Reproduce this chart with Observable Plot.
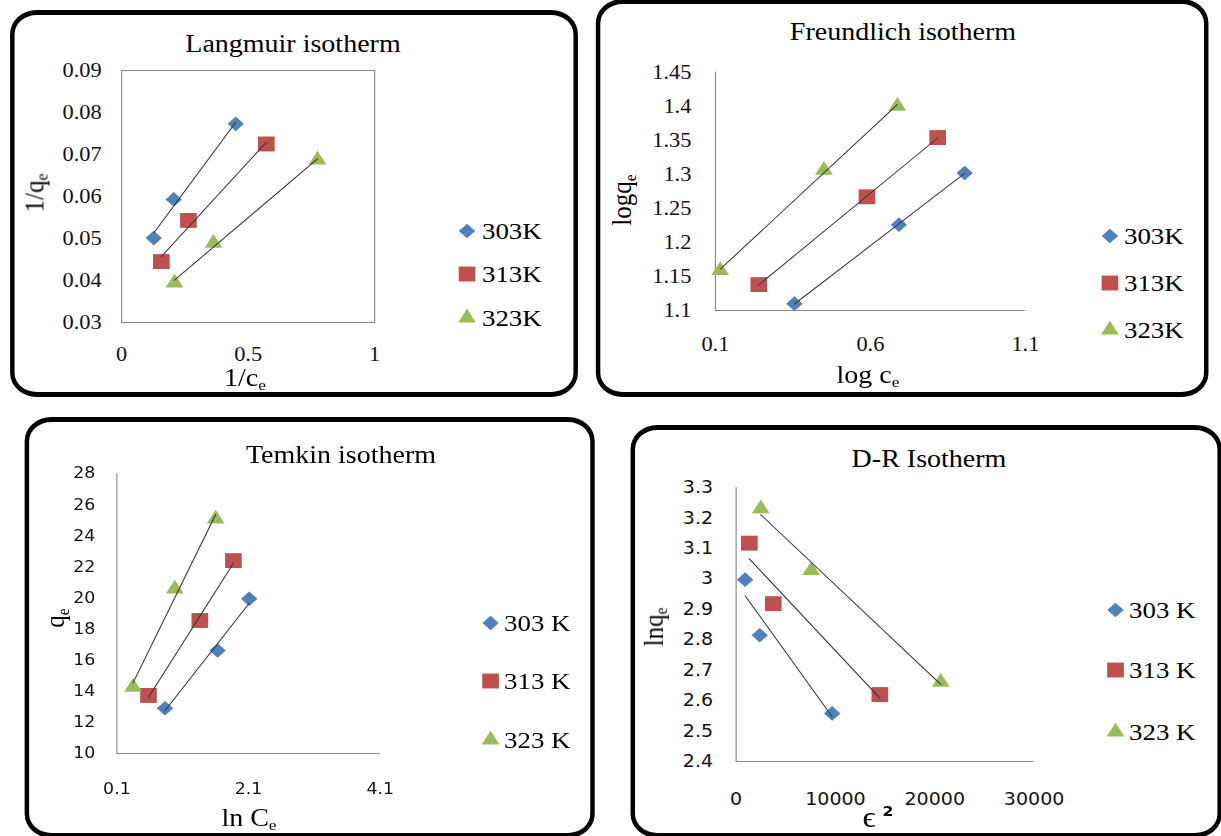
<!DOCTYPE html>
<html><head><meta charset="utf-8">
<script src="https://cdn.jsdelivr.net/npm/d3@7"></script>
<script src="https://cdn.jsdelivr.net/npm/@observablehq/plot@0.6"></script>
<style>
html,body{margin:0;padding:0;background:#fff;overflow:hidden;width:1221px;height:836px;}
#stage{position:absolute;left:0;top:0;height:836px;transform-origin:0 0;}
.panel{position:absolute;box-sizing:border-box;border-style:solid;border-color:#000;border-radius:24px;background:#fff;}
.txt{position:absolute;white-space:nowrap;line-height:1;color:#000;font-family:"Liberation Serif","Times New Roman",serif;}
.txt sub{font-size:0.62em;vertical-align:baseline;position:relative;top:0.25em;}
.sym{position:absolute;overflow:visible;}
svg.chart{position:absolute;max-width:none !important;}
</style></head><body><div id="stage"></div>
<script>
// ---------- data ----------
const seriesK = ["303K", "313K", "323K"];
const seriesKSpaced = ["303 K", "313 K", "323 K"];
const seriesColors = ["#4F81BD", "#C0504D", "#9BBB59"];
const seriesSymbols = ["diamond2", "square", "triangle"];

const langmuirX = [[0.127, 0.206, 0.451], [0.157, 0.264, 0.572], [0.209, 0.363, 0.774]];
const langmuirY = [[0.0501, 0.0593, 0.0773], [0.0445, 0.0543, 0.0725], [0.0394, 0.0489, 0.0687]];
const langmuirXTicks = [0, 0.5, 1];
const langmuirYTicks = [0.03, 0.04, 0.05, 0.06, 0.07, 0.08, 0.09];

const freundlichX = [[0.355, 0.692, 0.904], [0.240, 0.589, 0.817], [0.1155, 0.450, 0.687]];
const freundlichY = [[1.110, 1.226, 1.302], [1.138, 1.267, 1.354], [1.159, 1.306, 1.400]];
const freundlichXTicks = [0.1, 0.6, 1.1];
const freundlichYTicks = [1.1, 1.15, 1.2, 1.25, 1.3, 1.35, 1.4, 1.45];

const temkinX = [[0.83, 1.63, 2.11], [0.58, 1.36, 1.87], [0.345, 0.98, 1.60]];
const temkinY = [[12.91, 16.62, 19.94], [13.73, 18.55, 22.4], [14.26, 20.58, 25.08]];
const temkinXTicks = [0.1, 2.1, 4.1];
const temkinYTicks = [10, 12, 14, 16, 18, 20, 22, 24, 26, 28];

const drX = [[906, 2380, 9670], [1330, 3740, 14470], [2480, 7560, 20600]];
const drY = [[2.998, 2.815, 2.558], [3.118, 2.919, 2.620], [3.231, 3.028, 2.661]];
const drXTicks = [0, 10000, 20000, 30000];
const drYTicks = [2.4, 2.5, 2.6, 2.7, 2.8, 2.9, 3.0, 3.1, 3.2, 3.3];

// ---------- layout ----------
const S = 1.12; // horizontal stretch of the original picture
const px = x => x / S;
const stage = document.getElementById("stage");
stage.style.width = px(1221) + "px";
stage.style.transform = `scaleX(${S})`;

const R = [6.6, 8.4, 5.9]; // marker radii
const d3sym = [d3.symbolDiamond2, d3.symbolSquare, d3.symbolTriangle];

function records(X, Y, names) {
  const out = [];
  X.forEach((xs, i) => xs.forEach((x, j) => out.push({s: names[i], i, x, y: Y[i][j]})));
  return out;
}

function addText(html, style) {
  const d = document.createElement("div");
  d.className = "txt";
  d.innerHTML = html;
  Object.assign(d.style, style);
  stage.appendChild(d);
  return d;
}

function makePanel(c) {
  const {box, frame} = c;
  const p = document.createElement("div");
  p.className = "panel";
  Object.assign(p.style, {
    left: px(box.l) + "px", top: box.t + "px",
    width: px(box.r - box.l) + "px", height: (box.b - box.t) + "px",
    borderWidth: `5px ${5 / S}px`
  });
  stage.appendChild(p);

  const data = records(c.X, c.Y, c.names);
  const marks = [];
  if (c.fullFrame) marks.push(Plot.frame({stroke: "#868686"}));
  else {
    marks.push(Plot.ruleX([c.xDomain[0]], {stroke: "#868686"}));
    marks.push(Plot.ruleY([c.yDomain[0]], {stroke: "#868686"}));
  }
  const txt = {fontSize: c.tickFont, fontFamily: c.tickFamily, fill: "#111", label: null, tickSize: 0};
  marks.push(Plot.axisX({...txt, ticks: c.xTicks, tickPadding: c.xPad, tickFormat: c.xFmt}));
  marks.push(Plot.axisY({...txt, ticks: c.yTicks, tickPadding: c.yPad, tickFormat: c.yFmt}));
  for (let i = 0; i < 3; i++) {
    marks.push(Plot.dot(data.filter(d => d.i === i), {
      x: "x", y: "y", symbol: seriesSymbols[i], fill: seriesColors[i], r: R[i], stroke: "none"
    }));
  }
  marks.push(Plot.linearRegressionY(data, {x: "x", y: "y", z: "s", stroke: "#3a3a3a", strokeWidth: 1, ci: 0}));

  const svg = Plot.plot({
    width: px(box.r - box.l), height: box.b - box.t,
    marginLeft: px(frame.x0 - box.l), marginRight: px(box.r - frame.x1),
    marginTop: frame.y0 - box.t, marginBottom: box.b - frame.y1,
    x: {domain: c.xDomain}, y: {domain: c.yDomain},
    style: {background: "transparent", fontFamily: c.tickFamily, color: "#111", overflow: "visible"},
    marks
  });
  svg.classList.add("chart");
  svg.style.left = px(box.l) + "px";
  svg.style.top = box.t + "px";
  svg.querySelectorAll("text").forEach(t => t.style.fontFamily = c.tickFamily);
  stage.appendChild(svg);

  const TF = 25, AF = 25, LF = 24;
  addText(c.title, {fontSize: TF + "px", left: px(c.titlePos[0]) + "px", top: (c.titlePos[1] - 0.8375 * TF) + "px", transform: "translateX(-50%)"});
  addText(c.xTitle, {fontSize: AF + "px", left: px(c.xTitlePos[0]) + "px", top: (c.xTitlePos[1] - 0.8375 * AF) + "px", transform: "translateX(-50%)"});
  addText(c.yTitle, {fontSize: AF + "px", left: px(c.yTitlePos[0]) + "px", top: c.yTitlePos[1] + "px", transform: "translate(-50%,-50%) rotate(-90deg)"});
  c.legend.ys.forEach((y, i) => {
    const ns = "http://www.w3.org/2000/svg";
    const s = document.createElementNS(ns, "svg");
    s.setAttribute("class", "sym");
    s.setAttribute("width", 24); s.setAttribute("height", 24);
    s.style.left = (px(c.legend.mx) - 12) + "px";
    s.style.top = (y - 12) + "px";
    const path = document.createElementNS(ns, "path");
    path.setAttribute("d", d3.symbol(d3sym[i], Math.PI * R[i] * R[i])());
    path.setAttribute("transform", "translate(12,12)");
    path.setAttribute("fill", seriesColors[i]);
    s.appendChild(path);
    stage.appendChild(s);
    addText(c.names[i], {fontSize: LF + "px", left: px(c.legend.tx) + "px", top: (y - 0.5 * LF) + "px"});
  });
}

const serif = '"Liberation Serif", "Times New Roman", serif';
const sans = '"DejaVu Sans", sans-serif';
const fmt1 = d => String(+d.toFixed(1));
const fmt2 = d => String(+d.toFixed(2));

makePanel({
  box: {l: 10, t: 10, r: 578, b: 397}, frame: {x0: 121, x1: 374, y0: 70, y1: 322},
  X: langmuirX, Y: langmuirY, names: seriesK,
  xDomain: [0, 1], yDomain: [0.03, 0.09], xTicks: langmuirXTicks, yTicks: langmuirYTicks,
  xFmt: d => String(d), yFmt: d => d.toFixed(2), tickFamily: serif, tickFont: 20, xPad: 24, yPad: px(20),
  fullFrame: true,
  title: "Langmuir isotherm", titlePos: [293, 52],
  xTitle: "1/c<sub>e</sub>", xTitlePos: [245, 386],
  yTitle: "1/q<sub>e</sub>", yTitlePos: [34, 193],
  legend: {mx: 467, tx: 482, ys: [231, 274, 318]}
});

makePanel({
  box: {l: 596, t: -1, r: 1208, b: 397}, frame: {x0: 715, x1: 1025, y0: 71.7, y1: 310},
  X: freundlichX, Y: freundlichY, names: seriesK,
  xDomain: [0.1, 1.1], yDomain: [1.1, 1.45], xTicks: freundlichXTicks, yTicks: freundlichYTicks,
  xFmt: fmt1, yFmt: fmt2, tickFamily: serif, tickFont: 20, xPad: 26, yPad: px(24),
  fullFrame: false,
  title: "Freundlich isotherm", titlePos: [903, 39.5],
  xTitle: "log c<sub>e</sub>", xTitlePos: [868, 383],
  yTitle: "logq<sub>e</sub>", yTitlePos: [622, 200],
  legend: {mx: 1109.5, tx: 1124, ys: [236, 283, 330]}
});

makePanel({
  box: {l: 25, t: 417, r: 595, b: 838}, frame: {x0: 116.7, x1: 380, y0: 473, y1: 753},
  X: temkinX, Y: temkinY, names: seriesKSpaced,
  xDomain: [0.1, 4.1], yDomain: [10, 28], xTicks: temkinXTicks, yTicks: temkinYTicks,
  xFmt: fmt1, yFmt: d => String(d), tickFamily: sans, tickFont: 15.5, xPad: 29.5, yPad: px(21.7),
  fullFrame: false,
  title: "Temkin isotherm", titlePos: [341, 463],
  xTitle: "ln C<sub>e</sub>", xTitlePos: [249, 826],
  yTitle: "q<sub>e</sub>", yTitlePos: [55, 618],
  legend: {mx: 491, tx: 504, ys: [623, 681, 740]}
});

makePanel({
  box: {l: 630, t: 425, r: 1222, b: 838}, frame: {x0: 735, x1: 1033, y0: 487.3, y1: 761},
  X: drX, Y: drY, names: seriesKSpaced,
  xDomain: [0, 30000], yDomain: [2.4, 3.3], xTicks: drXTicks, yTicks: drYTicks,
  xFmt: d => String(d), yFmt: fmt1, tickFamily: sans, tickFont: 17, xPad: 31, yPad: px(23),
  fullFrame: false,
  title: "D-R Isotherm", titlePos: [929, 467],
  xTitle: "<span style=\"font-size:29px;line-height:1\">\u03F5</span> <span style=\"font-family:'DejaVu Sans';font-size:14px;font-weight:bold;position:relative;top:-0.8em\">2</span>", xTitlePos: [878, 824],
  yTitle: "lnq<sub>e</sub>", yTitlePos: [653, 627],
  legend: {mx: 1115.5, tx: 1129, ys: [610, 670, 732]}
});
</script></body></html>
